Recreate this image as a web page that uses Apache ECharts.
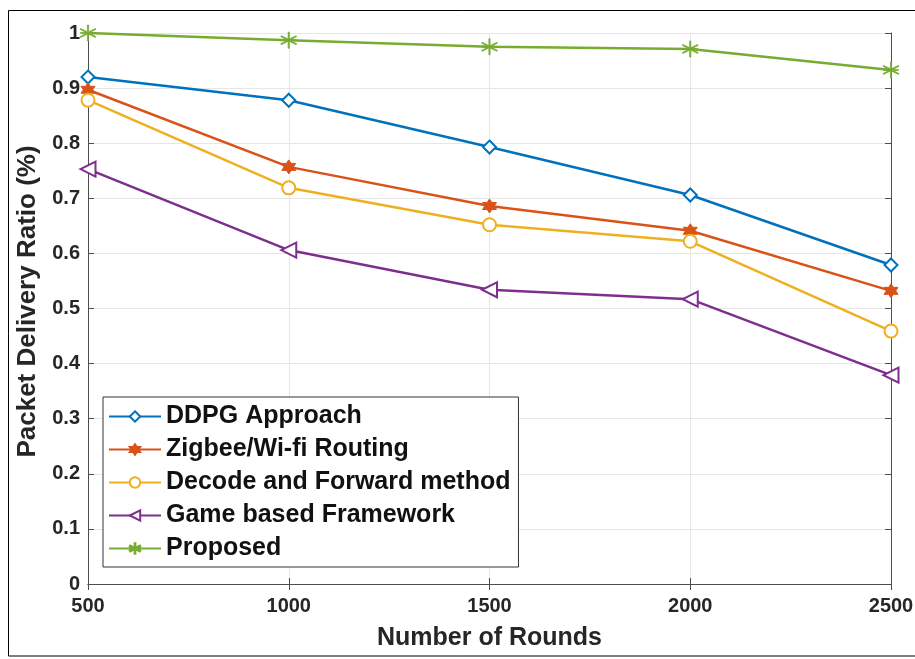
<!DOCTYPE html>
<html><head><meta charset="utf-8">
<script src="https://cdn.jsdelivr.net/npm/echarts@6/dist/echarts.min.js"></script>
<style>html,body{margin:0;padding:0;background:#fff}#c{width:915px;height:659px}</style>
</head><body><div id="c"></div>
<script>
const rounds = [500, 1000, 1500, 2000, 2500];
const ddpg = [0.92, 0.878, 0.793, 0.706, 0.579];
const zigbee = [0.897, 0.757, 0.686, 0.641, 0.532];
const decode = [0.878, 0.719, 0.652, 0.622, 0.459];
const game = [0.753, 0.606, 0.534, 0.517, 0.379];
const proposed = [1.0, 0.987, 0.975, 0.971, 0.933];
const names = ['DDPG Approach', 'Zigbee/Wi-fi Routing', 'Decode and Forward method', 'Game based Framework', 'Proposed'];
const colors = ['#0072BD', '#D95319', '#EDB120', '#7E2F8E', '#77AC30'];

const hexagram = 'path://M0,-10 L2.9,-5 L8.66,-5 L5.8,0 L8.66,5 L2.9,5 L0,10 L-2.9,5 L-8.66,5 L-5.8,0 L-8.66,-5 L-2.9,-5 Z';
const asterisk = 'path://M-0.6,-10 L0.6,-10 L0.6,-1.4 L7.5,-5.6 L8.1,-4.6 L1.2,0 L8.1,4.6 L7.5,5.6 L0.6,1.4 L0.6,10 L-0.6,10 L-0.6,1.4 L-7.5,5.6 L-8.1,4.6 L-1.2,0 L-8.1,-4.6 L-7.5,-5.6 L-0.6,-1.4 Z M-7.6,-0.6 L7.6,-0.6 L7.6,0.6 L-7.6,0.6 Z';

const dataSets = [ddpg, zigbee, decode, game, proposed];
const symbols = ['diamond', hexagram, 'circle', 'triangle', asterisk];
const sizes = [13, 14, 13, 15, 16];
const rotates = [0, 0, 0, 90, 0];

const series = dataSets.map((d, i) => ({
  name: names[i],
  type: 'line',
  data: rounds.map((r, j) => [r, d[j]]),
  symbol: symbols[i],
  symbolSize: sizes[i],
  symbolRotate: rotates[i],
  showAllSymbol: true,
  lineStyle: { color: colors[i], width: 2.5 },
  itemStyle: i === 4 ? { color: colors[i], borderColor: colors[i], borderWidth: 0.8 } :
    (i === 1 ? { color: colors[i], borderColor: colors[i], borderWidth: 1 } : { color: '#fff', borderColor: colors[i], borderWidth: 2 }),
  z: 3 + i
}));

const font = "'Liberation Sans', Arial, sans-serif";
const chart = echarts.init(document.getElementById('c'));
chart.setOption({
  animation: false,
  backgroundColor: '#fff',
  graphic: [{ type: 'rect', shape: { x: 8.5, y: 10.5, width: 920, height: 645.5 }, style: { fill: 'none', stroke: '#000', lineWidth: 1 }, z: 100 }],
  grid: { left: 88, top: 33, right: 24, bottom: 75, show: false, outerBoundsMode: 'none', containLabel: false },
  legend: {
    orient: 'vertical', left: 103, top: 397,
    data: names,
    itemWidth: 52, itemHeight: 13, itemGap: 8,
    padding: [7, 8, 6, 5],
    borderColor: '#333', borderWidth: 1, backgroundColor: '#fff',
    textStyle: { fontFamily: font, fontWeight: 'bold', fontSize: 25, color: '#111' }
  },
  xAxis: [{
    type: 'value', min: 500, max: 2500, interval: 500,
    name: 'Number of Rounds', nameLocation: 'middle', nameGap: 42,
    nameTextStyle: { fontFamily: font, fontWeight: 'bold', fontSize: 25, color: '#262626' },
    axisLine: { show: true, onZero: false, lineStyle: { color: '#4d4d4d', width: 1 } },
    axisTick: { show: true, inside: true, length: 6, lineStyle: { color: '#4d4d4d' } },
    axisLabel: { fontFamily: font, fontWeight: 'bold', fontSize: 20, color: '#262626', margin: 12,
      formatter: v => String(v) },
    splitLine: { show: true, lineStyle: { color: '#e6e6e6', width: 1 } }
  }, {
    type: 'value', min: 500, max: 2500, interval: 500, position: 'top',
    axisLine: { show: true, lineStyle: { color: '#4d4d4d', width: 1 } },
    axisTick: { show: true, inside: true, length: 6, lineStyle: { color: '#4d4d4d' } },
    axisLabel: { show: false }, splitLine: { show: false }
  }],
  yAxis: [{
    type: 'value', min: 0, max: 1, interval: 0.1,
    name: 'Packet Delivery Ratio (%)', nameLocation: 'middle', nameGap: 41,
    nameTextStyle: { fontFamily: font, fontWeight: 'bold', fontSize: 26, color: '#262626', padding: [0, 0, 0, 14] },
    axisLine: { show: true, onZero: false, lineStyle: { color: '#4d4d4d', width: 1 } },
    axisTick: { show: true, inside: true, length: 6, lineStyle: { color: '#4d4d4d' } },
    axisLabel: { fontFamily: font, fontWeight: 'bold', fontSize: 20, color: '#262626', margin: 8,
      formatter: v => String(Math.round(v * 10) / 10) },
    splitLine: { show: true, lineStyle: { color: '#e6e6e6', width: 1 } }
  }, {
    type: 'value', min: 0, max: 1, interval: 0.1, position: 'right',
    axisLine: { show: true, lineStyle: { color: '#4d4d4d', width: 1 } },
    axisTick: { show: true, inside: true, length: 6, lineStyle: { color: '#4d4d4d' } },
    axisLabel: { show: false }, splitLine: { show: false }
  }],
  series: series
});
</script></body></html>
